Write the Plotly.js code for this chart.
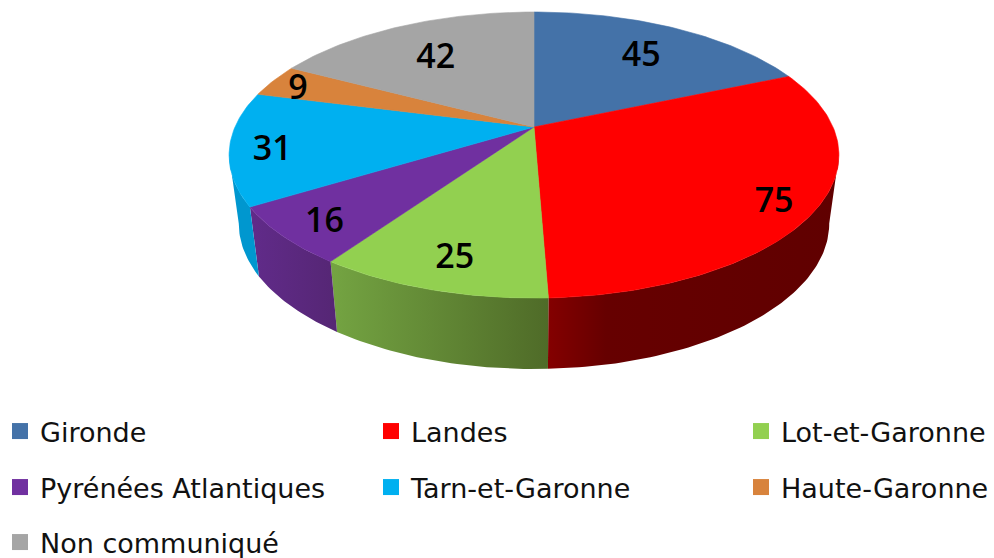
<!DOCTYPE html>
<html>
<head>
<meta charset="utf-8">
<script src="https://cdn.plot.ly/plotly-3.0.1.min.js"></script>
<style>html,body{margin:0;padding:0;background:#fff}#chart{width:994px;height:558px}</style>
</head>
<body>
<div id="chart"></div>
<script>
const categories = ['Gironde','Landes','Lot-et-Garonne','Pyrénées Atlantiques','Tarn-et-Garonne','Haute-Garonne','Non communiqué'];
const values = [45,75,25,16,31,9,42];
const colors = ['#4472A8','#FF0000','#92D050','#7030A0','#00B0F0','#D8833C','#A5A5A5'];
const legendIds = ['legend','legend2','legend3','legend4','legend5','legend6','legend7'];
const legendColumn = [0,371,741,0,371,741,0];
const legendTop = [407,407,407,463,463,463,518];
const labelRadius = [0.70,0.87,0.82,0.86,0.86,0.88,0.68];
const labelNudgeX = [4,-2,2,2,-1,-5,-4];
const labelNudgeY = [3,6,4,5,7,5,4];
const wallStops = [
  null,
  [[0,'#840000'],[0.2,'#660000'],[1,'#600000']],
  [[0,'#74A442'],[1,'#4F6B28']],
  [[0,'#612B8A'],[1,'#552674']],
  [[0,'#0097CF'],[1,'#0097CF']],
  null,
  null
];

// Perspective projection of the pie disc onto the page
const tilt = -0.196;
const topFace = {cx:534, cy:127, ax:299, ay:112.65};
const baseFace = {cx:534, cy:195, ax:289.5, ay:101.7};
function project(face, deg, r){
  const a = deg*Math.PI/180, u = r*Math.sin(a), v = -r*Math.cos(a), d = 1+tilt*v;
  return [face.cx+face.ax*u/d, (face.cy+face.ay*v)/d];
}
function arc(face, from, to){
  const n = Math.max(2, Math.ceil(Math.abs(to-from))), pts = [];
  for(let i=0;i<=n;i++) pts.push(project(face, from+(to-from)*i/n, 1));
  return pts;
}
const total = values.reduce((a,b)=>a+b,0);
const silhouetteRight = 101.3, silhouetteLeft = 258.7;

const walls = [], faces = [], keys = [];
const labelX = [], labelY = [];
let acc = 0;
values.forEach((val,i)=>{
  const start = acc/total*360, end = (acc+val)/total*360, mid = (start+end)/2;
  acc += val;
  const poly = [[topFace.cx, topFace.cy]].concat(arc(topFace,start,end));
  poly.push(poly[0]);
  faces.push({type:'scatter',mode:'lines',fill:'toself',fillcolor:colors[i],
    line:{color:colors[i],width:0.6},
    x:poly.map(p=>p[0]),y:poly.map(p=>p[1]),
    name:categories[i],showlegend:false,hoverinfo:'name'});
  const from = Math.max(start,silhouetteRight), to = Math.min(end,silhouetteLeft);
  if(to>from && wallStops[i]){
    const w = arc(topFace,from,to).concat(arc(baseFace,to,from));
    w.push(w[0]);
    walls.push({type:'scatter',mode:'lines',fill:'toself',
      fillgradient:{type:'horizontal',colorscale:wallStops[i]},
      line:{width:0},
      x:w.map(p=>p[0]),y:w.map(p=>p[1]),showlegend:false,hoverinfo:'skip'});
  }
  const lp = project(topFace,mid,labelRadius[i]);
  labelX.push(lp[0]+labelNudgeX[i]); labelY.push(lp[1]+labelNudgeY[i]);
  keys.push({type:'scatter',mode:'markers',x:[null],y:[null],name:categories[i],
    legend:legendIds[i],showlegend:true,
    marker:{symbol:'square',size:19,color:colors[i],line:{width:0}}});
});
const labels = {type:'scatter',mode:'text',x:labelX,y:labelY,text:values.map(String),
  textposition:'middle center',showlegend:false,hoverinfo:'skip',
  textfont:{family:'"Open Sans",sans-serif',size:34,color:'#000',weight:600}};

const layout = {
  width:994,height:558,margin:{l:0,r:0,t:0,b:0,pad:0},
  paper_bgcolor:'#fff',plot_bgcolor:'#fff',hovermode:false,
  xaxis:{range:[0,994],visible:false,fixedrange:true},
  yaxis:{range:[558,0],visible:false,fixedrange:true}
};
legendIds.forEach((id,i)=>{
  layout[id] = {orientation:'h',xref:'container',yref:'container',xanchor:'left',yanchor:'top',
    x:legendColumn[i]/994,y:1-legendTop[i]/558,bgcolor:'rgba(0,0,0,0)',borderwidth:0,
    font:{family:'"DejaVu Sans",sans-serif',size:27,color:'#111'}};
});
Plotly.newPlot('chart',walls.concat(faces,[labels],keys),layout,{displayModeBar:false,staticPlot:true})
  .then(gd=>Plotly.relayout(gd,{'yaxis.range':[gd._fullLayout._size.h,0]}));
</script>
</body>
</html>
